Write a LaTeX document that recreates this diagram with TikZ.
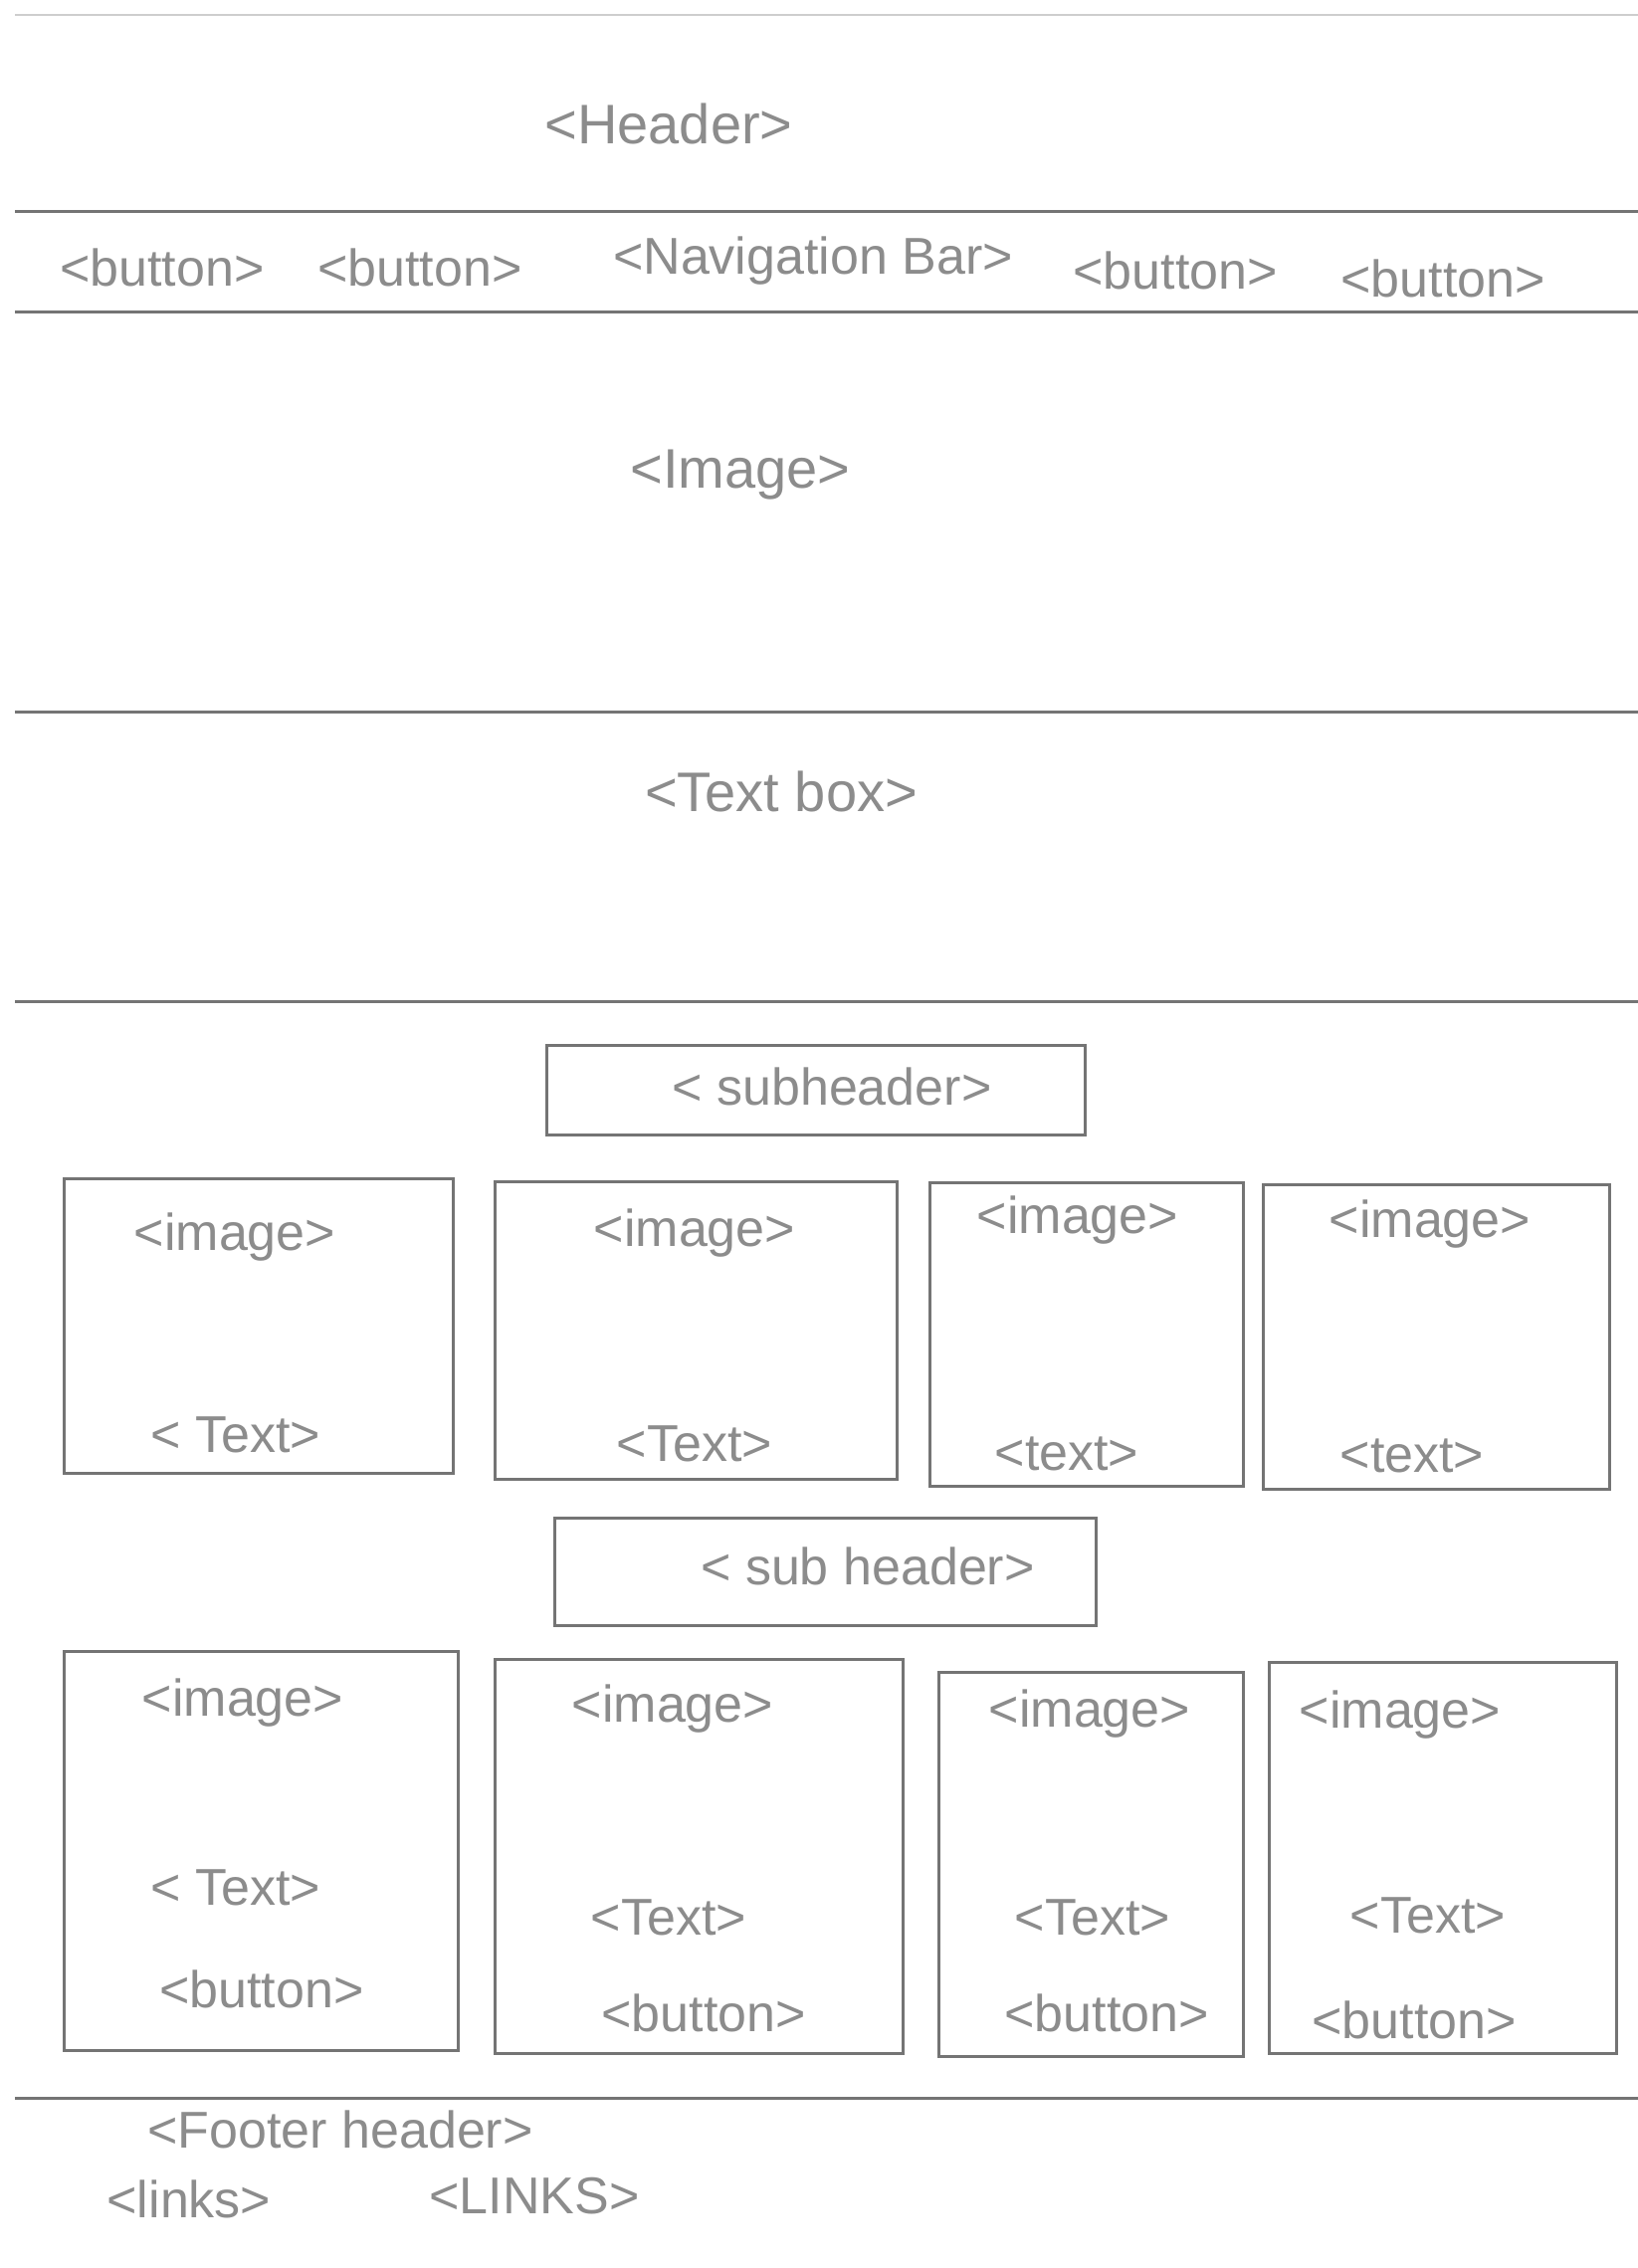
\documentclass[tikz,border=0pt]{standalone}
\usepackage{fontspec}
\setmainfont{Liberation Sans}
\definecolor{pencil}{HTML}{747474}
\definecolor{pencilt}{HTML}{8C8C8C}
\begin{document}
\begin{tikzpicture}[x=1pt,y=-1pt,
  rule/.style={draw=pencil,line width=3pt},
  faint/.style={draw=pencil!35,line width=2pt},
  card/.style={draw=pencil,line width=3.2pt,anchor=north west,inner sep=0pt},
  lbl/.style={text=pencilt,inner sep=0pt,font=\fontsize{52}{60}\selectfont},
  big/.style={text=pencilt,inner sep=0pt,font=\fontsize{56}{64}\selectfont}]
\useasboundingbox[fill=white] (0,0) rectangle (1646,2279);
% horizontal rules
\draw[faint] (15,15) -- (1646,15);
\draw[rule] (15,212) -- (1646,212);
\draw[rule] (15,313) -- (1646,313);
\draw[rule] (15,715) -- (1646,715);
\draw[rule] (15,1006) -- (1646,1006);
\draw[rule] (15,2108) -- (1646,2108);
% header + nav
\node[big] (header) at (672,124) {<Header>};
\node[lbl] (nb1) at (163,269) {<button>};
\node[lbl] (nb2) at (422,269) {<button>};
\node[lbl] (nav) at (817,262) {<Navigation Bar>};
\node[lbl] (nb3) at (1181,272) {<button>};
\node[lbl] (nb4) at (1450,280) {<button>};
% hero
\node[big] (hero) at (744,477) {<Image>};
\node[big] (tbox) at (785,795) {<Text box>};
% subheader 1
\node[card,minimum width=541pt,minimum height=90pt] (s1) at (548,1049) {};
\node[lbl] (s1t) at (836,1092) {< subheader>};
% row 1 cards
\node[card,minimum width=391pt,minimum height=296pt] (c11) at (63,1183) {};
\node[card,minimum width=404pt,minimum height=299pt] (c12) at (496,1186) {};
\node[card,minimum width=315pt,minimum height=305pt] (c13) at (933,1187) {};
\node[card,minimum width=348pt,minimum height=306pt] (c14) at (1268,1189) {};
\node[lbl] (c11i) at (236,1243) {<image>};
\node[lbl] (c12i) at (698,1239) {<image>};
\node[lbl] (c13i) at (1083,1226) {<image>};
\node[lbl] (c14i) at (1437,1230) {<image>};
\node[lbl] (c11x) at (237,1442) {< Text>};
\node[lbl] (c12x) at (698,1451) {<Text>};
\node[lbl] (c13x) at (1072,1461) {<text>};
\node[lbl] (c14x) at (1419,1463) {<text>};
% subheader 2
\node[card,minimum width=544pt,minimum height=108pt] (s2) at (556,1524) {};
\node[lbl] (s2t) at (872,1574) {< sub header>};
% row 2 cards
\node[card,minimum width=396pt,minimum height=401pt] (c21) at (63,1658) {};
\node[card,minimum width=410pt,minimum height=396pt] (c22) at (496,1666) {};
\node[card,minimum width=306pt,minimum height=386pt] (c23) at (942,1679) {};
\node[card,minimum width=349pt,minimum height=393pt] (c24) at (1274,1669) {};
\node[lbl] (c21i) at (244,1711) {<image>};
\node[lbl] (c22i) at (676,1717) {<image>};
\node[lbl] (c23i) at (1095,1722) {<image>};
\node[lbl] (c24i) at (1407,1723) {<image>};
\node[lbl] (c21x) at (237,1897) {< Text>};
\node[lbl] (c22x) at (672,1927) {<Text>};
\node[lbl] (c23x) at (1098,1927) {<Text>};
\node[lbl] (c24x) at (1435,1925) {<Text>};
\node[lbl] (c21b) at (263,1999) {<button>};
\node[lbl] (c22b) at (707,2023) {<button>};
\node[lbl] (c23b) at (1112,2023) {<button>};
\node[lbl] (c24b) at (1421,2030) {<button>};
% footer
\node[lbl] (fh) at (342,2140) {<Footer header>};
\node[lbl] (fl1) at (190,2210) {<links>};
\node[lbl] (fl2) at (537,2207) {<LINKS>};
\end{tikzpicture}
\end{document}
